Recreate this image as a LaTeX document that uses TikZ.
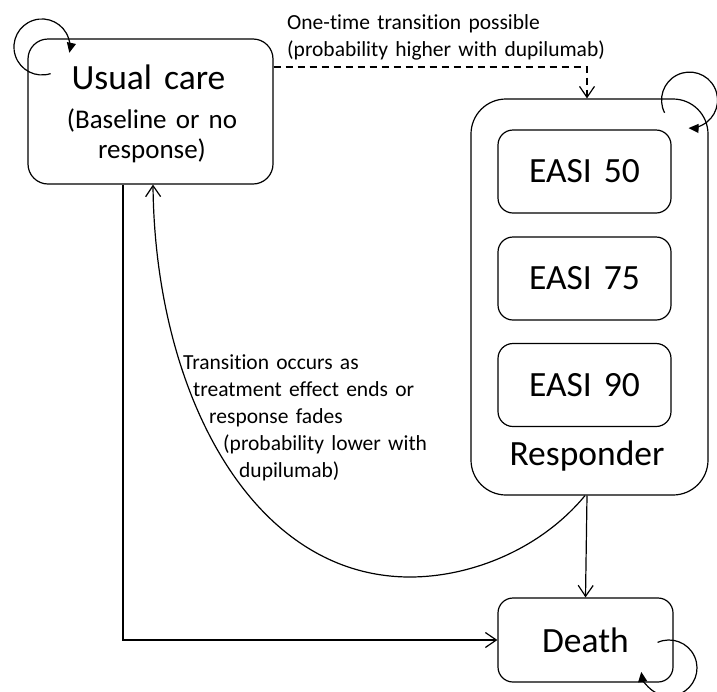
\documentclass[tikz,border=0pt]{standalone}
\usepackage{fontspec}
\setmainfont{Carlito}[WordSpace=1.5, Ligatures=NoCommon]
\usetikzlibrary{arrows.meta}
\begin{document}
\begin{tikzpicture}[x=1pt,y=-1pt,
  box/.style={draw, line width=1.2pt, rounded corners=#1, inner sep=0pt},
  box/.default=15pt,
  bigtxt/.style={font=\fontsize{35.5}{40}\selectfont},
  midtxt/.style={font=\fontsize{27}{30}\selectfont},
  smalltxt/.style={font=\fontsize{21.5}{27}\selectfont},
  conn/.style={line width=1.2pt},
  openarrow/.style={-{Straight Barb[length=11pt,width=15pt,line width=1.2pt]}},
  looparrow/.style={-{Triangle[length=10pt,width=9pt]}},
]
\useasboundingbox[fill=white] (0,0) rectangle (717,691);

% boxes
\node[box=20pt, minimum width=245pt, minimum height=145pt] (usual) at (150.5,111.5) {};
\node[bigtxt, anchor=base] (usualtxt) at (148.5,89) {Usual care};
\node[midtxt, align=center, anchor=base] (usualsub) at (152,158) {(Baseline or no\\response)};

\node[box=35pt, minimum width=237pt, minimum height=396pt] (resp) at (589.5,297) {};
\node[box, minimum width=173pt, minimum height=83pt, bigtxt] (e50) at (584.5,171.5) {EASI 50};
\node[box, minimum width=173pt, minimum height=83pt, bigtxt] (e75) at (584.5,278.5) {EASI 75};
\node[box, minimum width=173pt, minimum height=83pt, bigtxt] (e90) at (584.5,385) {EASI 90};
\node[bigtxt, anchor=base] (resptxt) at (587,465) {Responder};

\node[box, minimum width=175pt, minimum height=84pt, bigtxt] (death) at (585.5,640) {Death};

% labels
\node[smalltxt, align=left, anchor=base west, inner sep=0pt] (toplbl) at (287,56)
  {One-time transition possible\\(probability higher with dupilumab)};
\node[smalltxt, align=left, anchor=base west, inner sep=0pt] (backlbl) at (183,477)
  {Transition occurs as\\
   \hspace*{10pt}treatment effect ends or\\
   \hspace*{26pt}response fades\\
   \hspace*{40pt}(probability lower with\\
   \hspace*{56pt}dupilumab)};

% connectors
\draw[conn, dash pattern=on 7pt off 5pt, openarrow]
  ([yshift=44.5pt]usual.east) -| ([xshift=-2.5pt]resp.north);
\draw[conn, openarrow] ([xshift=-27.5pt]usual.south) |- (death.west);
\draw[conn, openarrow] ([xshift=-2.5pt]resp.south) -- (death.north);
\coordinate (low) at (410,577);
\draw[conn, openarrow] ([xshift=-4.5pt]resp.south)
  .. controls (540,550) and (470,577) .. (low)
  .. controls (250,577) and (155,390) .. ([xshift=2.5pt]usual.south);

% self loops
\coordinate (uloop) at (50.6,73.6);
\draw[conn, looparrow] (uloop) arc[start angle=72, end angle=372, radius=28];
\coordinate (rloop) at (664.6,112.8);
\draw[conn, looparrow] (rloop) arc[start angle=153, end angle=452, radius=28];
\coordinate (dloop) at (657.6,642.4);
\draw[conn, looparrow] (dloop) arc[start angle=246, end angle=532, radius=28];
\end{tikzpicture}
\end{document}
